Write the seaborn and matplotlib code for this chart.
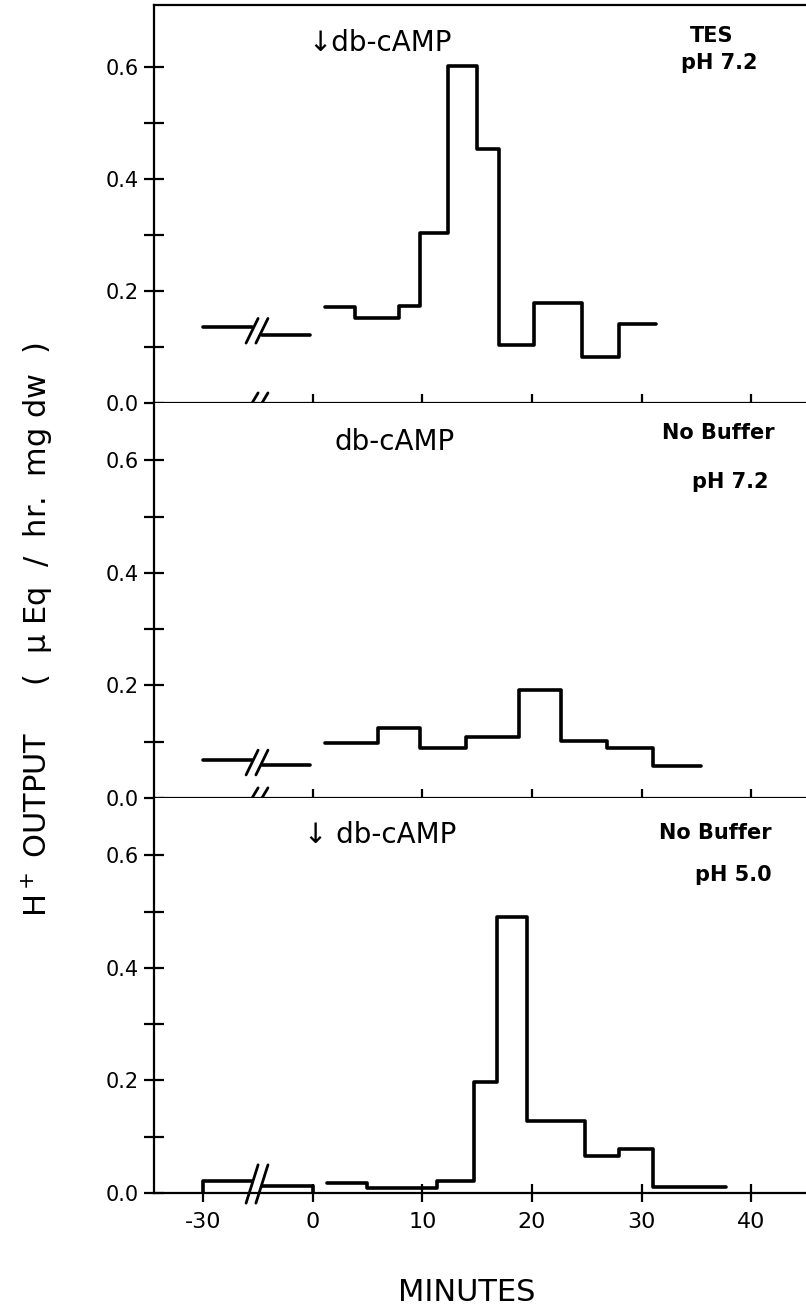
import numpy as np
import pandas as pd
import matplotlib
matplotlib.use("Agg")
import matplotlib.pyplot as plt
import seaborn as sns

# ---------------- data ----------------
x_tick_minutes = [-30, 0, 10, 20, 30, 40]
x_tick_labels = ["-30", "0", "10", "20", "30", "40"]
y_major = [0.0, 0.2, 0.4, 0.6]
y_minor = [0.1, 0.3, 0.5]
y_tick_labels = ["0.0", "0.2", "0.4", "0.6"]

pre_minutes = [-30, 0]          # control period, drawn before the axis break

tes_pre = [0.136, 0.122]
tes_edges = [1.15, 3.8, 7.9, 9.8, 12.3, 15.0, 17.0, 20.2, 24.6, 27.9, 31.3]
tes_vals = [0.171, 0.151, 0.173, 0.303, 0.601, 0.453, 0.103, 0.178, 0.083, 0.141]

nb72_pre = [0.068, 0.058]
nb72_edges = [1.15, 5.9, 9.8, 14.0, 18.8, 22.6, 26.8, 31.0, 35.4]
nb72_vals = [0.098, 0.124, 0.089, 0.109, 0.191, 0.101, 0.088, 0.056]

nb50_pre = [0.022, 0.012]
nb50_edges = [1.3, 4.9, 11.3, 14.7, 16.8, 19.5, 24.8, 27.9, 31.0, 37.7]
nb50_vals = [0.018, 0.008, 0.022, 0.198, 0.49, 0.127, 0.066, 0.078, 0.011]

drug_labels = ["\u2193db-cAMP", "db-cAMP", "\u2193 db-cAMP"]
buffer_labels = [["TES", "pH 7.2"], ["No Buffer", "pH 7.2"], ["No Buffer", "pH 5.0"]]

y_label = "H$^+$ OUTPUT     (  \u03bc Eq  /  hr.  mg dw  )"
x_label = "MINUTES"

# ---------------- styling ----------------
sns.set_style("ticks")
plt.rcParams["font.family"] = ["DejaVu Sans"]
for k in ["text.color", "axes.labelcolor", "xtick.color", "ytick.color",
          "axes.edgecolor"]:
    plt.rcParams[k] = "black"
LW = 2.6
PRE_SCALE = 3.0      # pre-break period is compressed
BREAK_X = -5.1       # centre of the axis break (display units)
GAP = 0.45


def to_disp(m):
    return m / PRE_SCALE if m < 0 else m


def step_path(edges, vals, from_zero=False, to_zero=False):
    xs, ys = [], []
    if from_zero:
        xs.append(edges[0]); ys.append(0.0)
    for i, v in enumerate(vals):
        xs += [edges[i], edges[i + 1]]
        ys += [v, v]
    if to_zero:
        xs.append(edges[-1]); ys.append(0.0)
    return pd.DataFrame({"x": xs, "y": ys})


def draw_line(ax, df):
    sns.lineplot(data=df, x="x", y="y", ax=ax, estimator=None, sort=False,
                 color="black", lw=LW, solid_capstyle="round",
                 solid_joinstyle="round", legend=False)


def slashes(ax, y0, h):
    for dx in (-GAP, GAP):
        xc = BREAK_X + dx
        ax.plot([xc - 0.55, xc + 0.55], [y0 - h, y0 + h], color="black",
                lw=2.0, clip_on=False, solid_capstyle="round", zorder=5)


fig = plt.figure(figsize=(8.06, 13.12), dpi=100)
left = 154 / 806
width = 1 - left
boxes = [
    [left, 1 - 403 / 1312, width, 398 / 1312],
    [left, 1 - 798 / 1312, width, 395 / 1312],
    [left, 1 - 1193 / 1312, width, 395 / 1312],
]
ytops = [0.7107, 0.7016, 0.7016]

panels = [
    (tes_pre, tes_edges, tes_vals),
    (nb72_pre, nb72_edges, nb72_vals),
    (nb50_pre, nb50_edges, nb50_vals),
]

text_pos = [
    ((-0.4, 0.643), (36.4, 0.655), (37.1, 0.607)),
    ((2.0, 0.632), (37.0, 0.648), (38.1, 0.561)),
    ((-0.8, 0.636), (36.7, 0.639), (38.4, 0.565)),
]

for i, (box, ytop, (pre, edges, vals)) in enumerate(zip(boxes, ytops, panels)):
    ax = fig.add_axes(box)
    bottom_panel = (i == 2)
    start = to_disp(pre_minutes[0])
    end = to_disp(pre_minutes[1]) - (0.0 if bottom_panel else 0.3)
    draw_line(ax, step_path([start, BREAK_X - GAP], [pre[0]], from_zero=bottom_panel))
    draw_line(ax, step_path([BREAK_X + GAP, end], [pre[1]], to_zero=bottom_panel))
    draw_line(ax, step_path(edges, vals))

    if bottom_panel:
        slashes(ax, 0.016, 0.034)
    else:
        slashes(ax, 0.0, 0.018)
        slashes(ax, (pre[0] + pre[1]) / 2, 0.022)

    ax.set_xlim(-14.5, 45.0)
    ax.set_ylim(0, ytop)

    if bottom_panel:
        ax.set_xticks([to_disp(m) for m in x_tick_minutes])
        ax.set_xticklabels(x_tick_labels, fontsize=16)
    else:
        ax.set_xticks([to_disp(m) for m in x_tick_minutes[1:]])
        ax.set_xticklabels([])
    ax.set_yticks(y_major)
    ax.set_yticklabels(y_tick_labels, fontsize=15)
    ax.set_yticks(y_minor, minor=True)
    ax.tick_params(axis="both", which="both", direction="inout", width=1.6,
                   color="black", labelcolor="black")
    ax.tick_params(axis="x", length=13, pad=7)
    ax.tick_params(axis="y", which="both", length=14, pad=4)
    ax.set_xlabel("")
    ax.set_ylabel("")

    for s in ["left", "bottom", "top"]:
        ax.spines[s].set_linewidth(1.6)
        ax.spines[s].set_color("black")
    ax.spines["right"].set_visible(False)
    ax.spines["top"].set_visible(i == 0)

    (dx, dy), (b1x, b1y), (b2x, b2y) = text_pos[i]
    ax.text(dx, dy, drug_labels[i], fontsize=20, ha="left", va="center",
            color="black")
    ax.text(b1x, b1y, buffer_labels[i][0], fontsize=15, fontweight="bold",
            ha="center", va="center", color="black")
    ax.text(b2x, b2y, buffer_labels[i][1], fontsize=15, fontweight="bold",
            ha="center", va="center", color="black")

fig.text(0.046, 0.52, y_label, rotation=90, fontsize=22, ha="center",
         va="center", color="black")
fig.text(0.579, 0.0145, x_label, fontsize=22, ha="center", va="center",
         color="black")

fig.savefig("out.png", dpi=100)
